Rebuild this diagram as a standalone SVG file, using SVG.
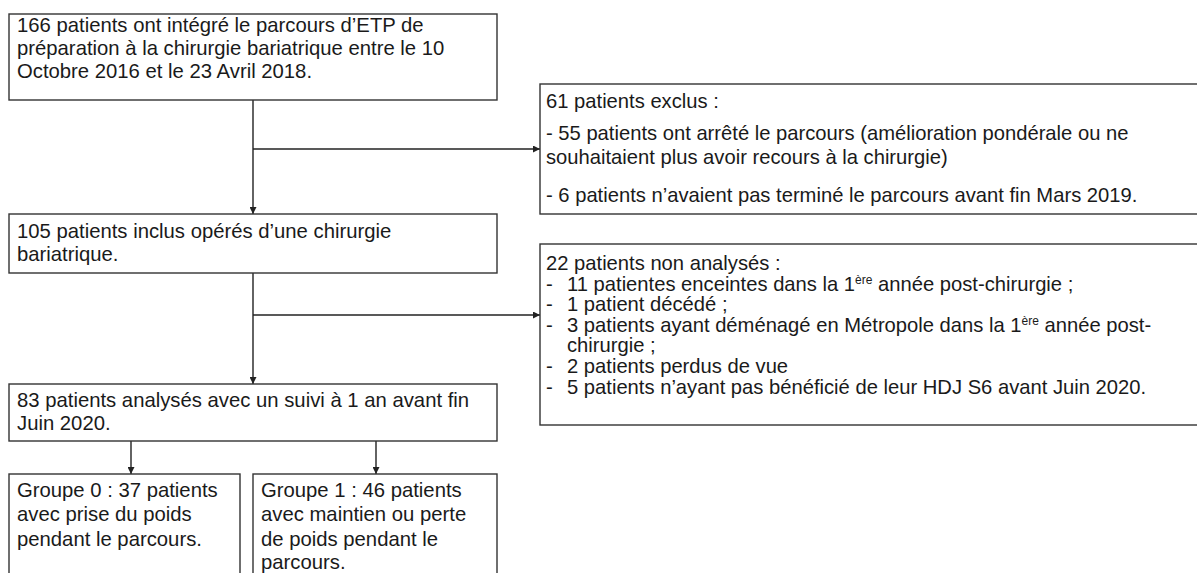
<svg xmlns="http://www.w3.org/2000/svg" width="1197" height="573" viewBox="0 0 1197 573">
<style>
.box{fill:#fff;stroke:#333;stroke-width:1.4}
.t{font-family:"Liberation Sans",Arial,sans-serif;font-size:20.3px;fill:#1a1a1a}
.n{font-family:"Liberation Sans",Arial,sans-serif;font-size:20.2px;fill:#1a1a1a}
.sup{font-size:12px}
.c{stroke:#222;stroke-width:1.4;fill:none}
</style>
<defs>
<marker id="ah" viewBox="0 0 10 10" refX="10" refY="5" markerWidth="7" markerHeight="7" markerUnits="userSpaceOnUse" orient="auto">
<path d="M0,0 L10,5 L0,10 z" fill="#222"/>
</marker>
</defs>
<rect width="1197" height="573" fill="#fff"/>
<g id="connectors">
<line class="c" x1="253" y1="100" x2="253" y2="214" marker-end="url(#ah)"/>
<line class="c" x1="253" y1="149" x2="540" y2="149" marker-end="url(#ah)"/>
<line class="c" x1="253" y1="273" x2="253" y2="384" marker-end="url(#ah)"/>
<line class="c" x1="253" y1="315" x2="540" y2="315" marker-end="url(#ah)"/>
<line class="c" x1="131" y1="441" x2="131" y2="474" marker-end="url(#ah)"/>
<line class="c" x1="376" y1="441" x2="376" y2="474" marker-end="url(#ah)"/>
</g>
<g id="n1">
<rect class="box" x="9" y="14" width="488" height="86"/>
<text class="t" x="17" y="32">166 patients ont intégré le parcours d’ETP de</text>
<text class="t" x="17" y="55">préparation à la chirurgie bariatrique entre le 10</text>
<text class="t" x="17" y="78">Octobre 2016 et le 23 Avril 2018.</text>
</g>
<g id="n2">
<rect class="box" x="540" y="84" width="670" height="130"/>
<text class="n" x="546" y="108">61 patients exclus :</text>
<text class="n" x="546" y="140">- 55 patients ont arrêté le parcours (amélioration pondérale ou ne</text>
<text class="n" x="546" y="164">souhaitaient plus avoir recours à la chirurgie)</text>
<text class="n" x="546" y="202">- 6 patients n’avaient pas terminé le parcours avant fin Mars 2019.</text>
</g>
<g id="n3">
<rect class="box" x="9" y="214" width="488" height="59"/>
<text class="t" x="17" y="238">105 patients inclus opérés d’une chirurgie</text>
<text class="t" x="17" y="261">bariatrique.</text>
</g>
<g id="n4">
<rect class="box" x="540" y="244" width="670" height="181"/>
<text class="n" x="546" y="270">22 patients non analysés :</text>
<text class="n" x="546" y="291">-</text><text class="n" x="567" y="291">11 patientes enceintes dans la 1<tspan class="sup" dy="-7">ère</tspan><tspan dy="7"> année post-chirurgie ;</tspan></text>
<text class="n" x="546" y="311">-</text><text class="n" x="567" y="311">1 patient décédé ;</text>
<text class="n" x="546" y="332">-</text><text class="n" x="567" y="332">3 patients ayant déménagé en Métropole dans la 1<tspan class="sup" dy="-7">ère</tspan><tspan dy="7"> année post-</tspan></text>
<text class="n" x="567" y="352">chirurgie ;</text>
<text class="n" x="546" y="373">-</text><text class="n" x="567" y="373">2 patients perdus de vue</text>
<text class="n" x="546" y="394">-</text><text class="n" x="567" y="394">5 patients n’ayant pas bénéficié de leur HDJ S6 avant Juin 2020.</text>
</g>
<g id="n5">
<rect class="box" x="9" y="384" width="488" height="57"/>
<text class="t" x="17" y="407">83 patients analysés avec un suivi à 1 an avant fin</text>
<text class="t" x="17" y="430">Juin 2020.</text>
</g>
<g id="n6">
<rect class="box" x="9" y="474" width="231" height="120"/>
<text class="t" x="17" y="497">Groupe 0 : 37 patients</text>
<text class="t" x="17" y="521">avec prise du poids</text>
<text class="t" x="17" y="546">pendant le parcours.</text>
</g>
<g id="n7">
<rect class="box" x="253" y="474" width="244" height="120"/>
<text class="t" x="261" y="497">Groupe 1 : 46 patients</text>
<text class="t" x="261" y="521">avec maintien ou perte</text>
<text class="t" x="261" y="546">de poids pendant le</text>
<text class="t" x="261" y="569">parcours.</text>
</g>
</svg>
